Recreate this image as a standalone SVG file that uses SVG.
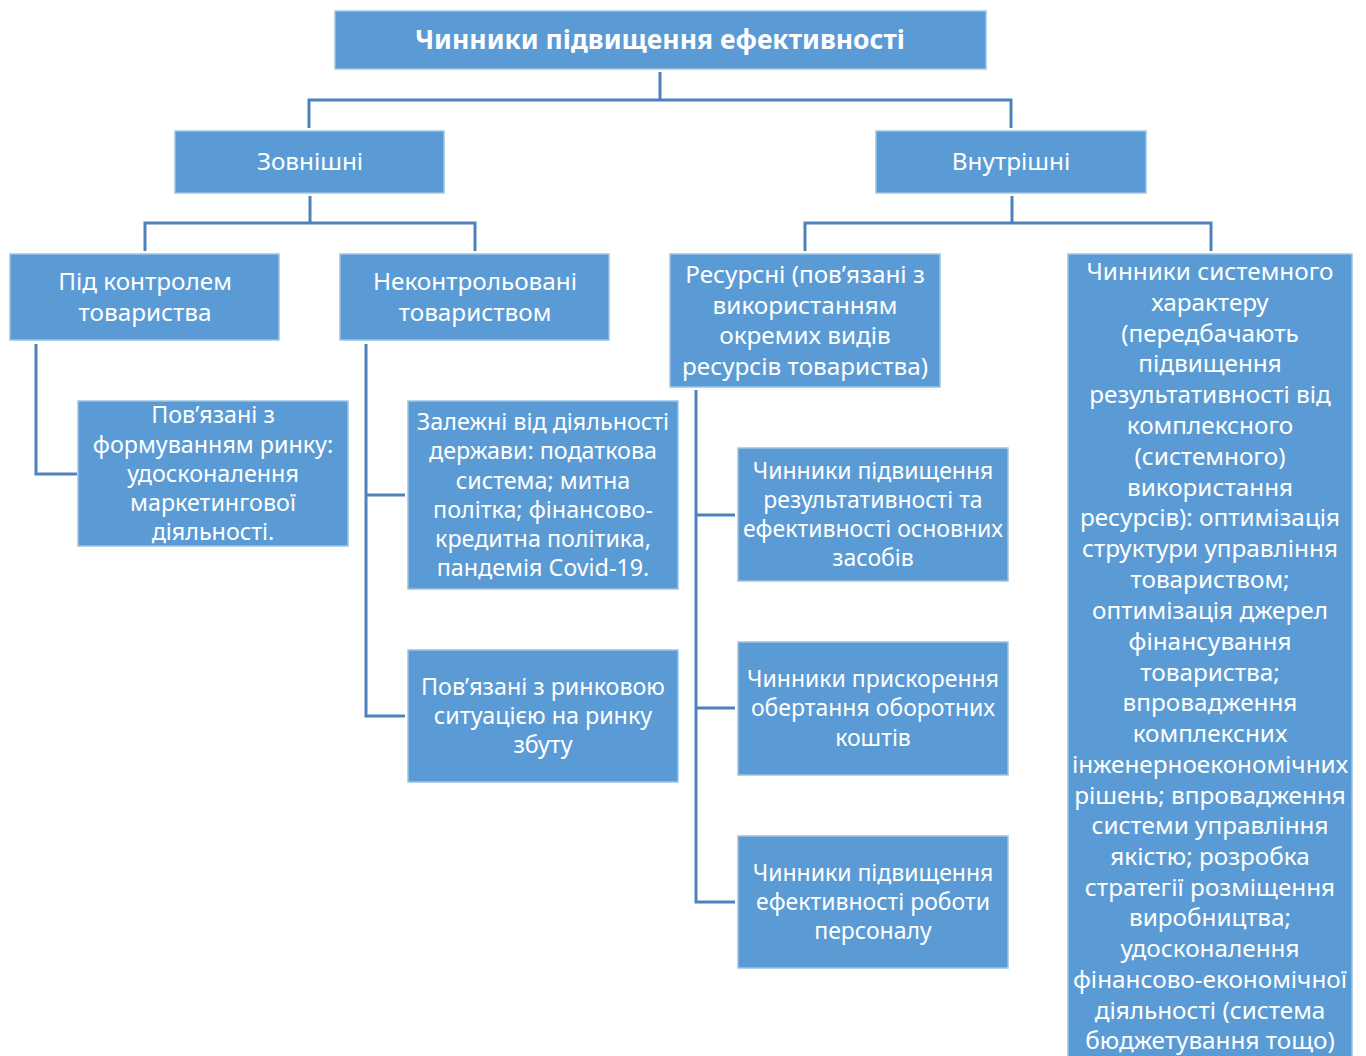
<svg xmlns="http://www.w3.org/2000/svg" width="1366" height="1056" viewBox="0 0 1366 1056">
<style>
.box{fill:#5B9BD5;stroke:#9DC3E6;stroke-width:1.5}
.t{font-family:"Noto Sans","Liberation Sans",sans-serif;font-size:23.3px;fill:#ffffff;text-anchor:middle}
.l{font-size:24.3px}
.r{font-size:23px}
.title{font-family:"Noto Sans","Liberation Sans",sans-serif;font-size:26.5px;font-weight:bold;fill:#ffffff;text-anchor:middle}
.c{fill:none;stroke:#4F81BD;stroke-width:3}
</style>
<rect width="1366" height="1056" fill="#ffffff"/>
<g id="connectors">
<path class="c" d="M660,72 V100 M309,128 V100 H1011 V128"/>
<path class="c" d="M310,196 V223 M145,251 V223 H475 V251"/>
<path class="c" d="M1012,196 V223 M805,251 V223 H1211 V251"/>
<path class="c" d="M36,344 V474 H77"/>
<path class="c" d="M366,344 V716 H405 M366,495 H405"/>
<path class="c" d="M696,390 V902 H735 M696,515 H735 M696,708 H735"/>
</g>
<g id="n_title">
<rect class="box" x="335" y="11" width="651" height="58"/>
<text class="title" x="660" y="49">Чинники підвищення ефективності</text>
</g>
<g id="n_ext">
<rect class="box" x="175" y="131" width="269" height="62"/>
<text class="t l" x="310" y="170">Зовнішні</text>
</g>
<g id="n_int">
<rect class="box" x="876" y="131" width="270" height="62"/>
<text class="t l" x="1011" y="170">Внутрішні</text>
</g>
<g id="n_ctrl">
<rect class="box" x="10" y="254" width="269" height="86"/>
<text class="t l" x="145" y="290">Під контролем</text>
<text class="t l" x="145" y="321">товариства</text>
</g>
<g id="n_unctrl">
<rect class="box" x="340" y="254" width="269" height="86"/>
<text class="t l" x="475" y="290">Неконтрольовані</text>
<text class="t l" x="475" y="321">товариством</text>
</g>
<g id="n_res">
<rect class="box" x="670" y="254" width="270" height="133"/>
<text class="t l" x="805" y="283">Ресурсні (пов’язані з</text>
<text class="t l" x="805" y="314">використанням</text>
<text class="t l" x="805" y="344">окремих видів</text>
<text class="t l" x="805" y="375">ресурсів товариства)</text>
</g>
<g id="n_sys">
<rect class="box" x="1068" y="254" width="284" height="810"/>
<text class="t l" x="1210" y="280">Чинники системного</text>
<text class="t l" x="1210" y="311">характеру</text>
<text class="t l" x="1210" y="342">(передбачають</text>
<text class="t l" x="1210" y="372">підвищення</text>
<text class="t l" x="1210" y="403">результативності від</text>
<text class="t l" x="1210" y="434">комплексного</text>
<text class="t l" x="1210" y="465">(системного)</text>
<text class="t l" x="1210" y="496">використання</text>
<text class="t l" x="1210" y="526">ресурсів): оптимізація</text>
<text class="t l" x="1210" y="557">структури управління</text>
<text class="t l" x="1210" y="588">товариством;</text>
<text class="t l" x="1210" y="619">оптимізація джерел</text>
<text class="t l" x="1210" y="650">фінансування</text>
<text class="t l" x="1210" y="681">товариства;</text>
<text class="t l" x="1210" y="711">впровадження</text>
<text class="t l" x="1210" y="742">комплексних</text>
<text class="t l" x="1210" y="773">інженерноекономічних</text>
<text class="t l" x="1210" y="804">рішень; впровадження</text>
<text class="t l" x="1210" y="834">системи управління</text>
<text class="t l" x="1210" y="865">якістю; розробка</text>
<text class="t l" x="1210" y="896">стратегії розміщення</text>
<text class="t l" x="1210" y="926">виробництва;</text>
<text class="t l" x="1210" y="957">удосконалення</text>
<text class="t l" x="1210" y="988">фінансово-економічної</text>
<text class="t l" x="1210" y="1019">діяльності (система</text>
<text class="t l" x="1210" y="1049">бюджетування тощо)</text>
</g>
<g id="n_market">
<rect class="box" x="78" y="401" width="270" height="145"/>
<text class="t" x="213" y="423">Пов’язані з</text>
<text class="t" x="213" y="453">формуванням ринку:</text>
<text class="t" x="213" y="482">удосконалення</text>
<text class="t" x="213" y="511">маркетингової</text>
<text class="t" x="213" y="540">діяльності.</text>
</g>
<g id="n_state">
<rect class="box" x="408" y="401" width="270" height="188"/>
<text class="t" x="543" y="430">Залежні від діяльності</text>
<text class="t" x="543" y="459">держави: податкова</text>
<text class="t" x="543" y="489">система; митна</text>
<text class="t" x="543" y="518">політка; фінансово-</text>
<text class="t" x="543" y="547">кредитна політика,</text>
<text class="t" x="543" y="576">пандемія Covid-19.</text>
</g>
<g id="n_sales">
<rect class="box" x="408" y="650" width="270" height="132"/>
<text class="t" x="543" y="695">Пов’язані з ринковою</text>
<text class="t" x="543" y="724">ситуацією на ринку</text>
<text class="t" x="543" y="753">збуту</text>
</g>
<g id="n_fixed">
<rect class="box" x="738" y="448" width="270" height="133"/>
<text class="t r" x="873" y="479">Чинники підвищення</text>
<text class="t r" x="873" y="508">результативності та</text>
<text class="t r" x="873" y="537">ефективності основних</text>
<text class="t r" x="873" y="566">засобів</text>
</g>
<g id="n_working">
<rect class="box" x="738" y="642" width="270" height="133"/>
<text class="t r" x="873" y="687">Чинники прискорення</text>
<text class="t r" x="873" y="716">обертання оборотних</text>
<text class="t r" x="873" y="746">коштів</text>
</g>
<g id="n_staff">
<rect class="box" x="738" y="836" width="270" height="132"/>
<text class="t r" x="873" y="881">Чинники підвищення</text>
<text class="t r" x="873" y="910">ефективності роботи</text>
<text class="t r" x="873" y="939">персоналу</text>
</g>
</svg>
